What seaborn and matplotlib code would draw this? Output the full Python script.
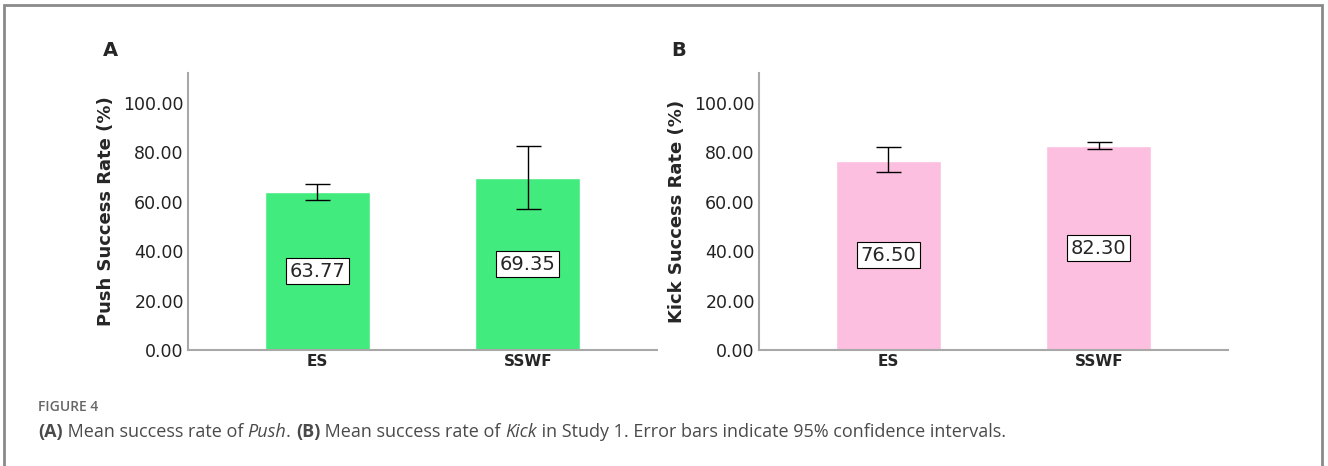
import numpy as np
import pandas as pd
import matplotlib
matplotlib.use('Agg')
import matplotlib.pyplot as plt
import seaborn as sns
from matplotlib.patches import Rectangle

sns.set_style('white')
plt.rcParams['font.family'] = ['DejaVu Sans']

categories = ['ES', 'SSWF']
push_means = [63.77, 69.35]
push_ci_low = [60.7, 57.0]
push_ci_high = [67.3, 82.3]
kick_means = [76.50, 82.30]
kick_ci_low = [71.8, 81.2]
kick_ci_high = [82.1, 83.9]
yticks = [0, 20, 40, 60, 80, 100]

green = '#42EB7D'
pink = '#FDBFDF'
spine_col = '#A8A8A8'

fig = plt.figure(figsize=(13.28, 4.66), dpi=100)
ax_a = fig.add_axes([188 / 1328, 1 - 350 / 466, 469 / 1328, 277 / 466])
ax_b = fig.add_axes([759 / 1328, 1 - 350 / 466, 469 / 1328, 277 / 466])


def draw_panel(ax, means, lows, highs, color, ylabel, letter, letter_x):
    df = pd.DataFrame({'group': categories, 'rate': means})
    sns.barplot(data=df, x='group', y='rate', color=color, width=0.5,
                saturation=1, errorbar=None, ax=ax)
    means = np.array(means)
    yerr = [means - np.array(lows), np.array(highs) - means]
    ax.errorbar(range(len(categories)), means, yerr=yerr, fmt='none',
                ecolor='black', elinewidth=1, capsize=9, capthick=1)
    for i, m in enumerate(means):
        ax.text(i, m / 2, f'{m:.2f}', ha='center', va='center', fontsize=14,
                bbox=dict(boxstyle='square,pad=0.18', fc='white', ec='black', lw=0.8))
    ax.set_xlim(-0.614, 1.614)
    ax.set_ylim(0, 112)
    ax.set_yticks(yticks)
    ax.set_yticklabels([f'{v:.2f}' for v in yticks], fontsize=12.5, color='#222222')
    ax.tick_params(axis='both', length=0, pad=3)
    for lab in ax.get_xticklabels():
        lab.set_fontweight('bold')
        lab.set_fontsize(11)
    ax.set_xlabel('')
    ax.set_ylabel(ylabel, fontsize=13, fontweight='bold', labelpad=6)
    sns.despine(ax=ax)
    for s in ['left', 'bottom']:
        ax.spines[s].set_color(spine_col)
        ax.spines[s].set_linewidth(1.5)
    ax.text(letter_x, 1.08, letter, transform=ax.transAxes, fontsize=14,
            fontweight='bold', ha='left', va='center')


draw_panel(ax_a, push_means, push_ci_low, push_ci_high, green,
           'Push Success Rate (%)', 'A', -0.181)
draw_panel(ax_b, kick_means, kick_ci_low, kick_ci_high, pink,
           'Kick Success Rate (%)', 'B', -0.188)

# outer frame
fig.patches.append(Rectangle((4 / 1328, -0.2), 1322 / 1328 - 4 / 1328, 1.2 - 5 / 466,
                             transform=fig.transFigure, fill=False,
                             edgecolor='#8A8A8A', lw=2))

# caption
cap_font = ['Open Sans', 'DejaVu Sans']
fig.text(38 / 1328, 1 - 407 / 466, 'FIGURE 4', fontsize=10, family=cap_font,
         fontweight='semibold', color='#666666', va='center')
pieces = [('(A)', 'bold', 'normal'), (' Mean success rate of ', 'normal', 'normal'),
          ('Push', 'normal', 'italic'), ('. ', 'normal', 'normal'),
          ('(B)', 'bold', 'normal'), (' Mean success rate of ', 'normal', 'normal'),
          ('Kick', 'normal', 'italic'),
          (' in Study 1. Error bars indicate 95% confidence intervals.', 'normal', 'normal')]
renderer = fig.canvas.get_renderer()
x = 38
for txt, w, st in pieces:
    t = fig.text(x / 1328, 1 - 432 / 466, txt, fontsize=13, family=cap_font,
                 fontweight=w, fontstyle=st, color='#4a4a4a', va='center')
    bb = t.get_window_extent(renderer)
    x += bb.width

fig.savefig('out.png', dpi=100)
